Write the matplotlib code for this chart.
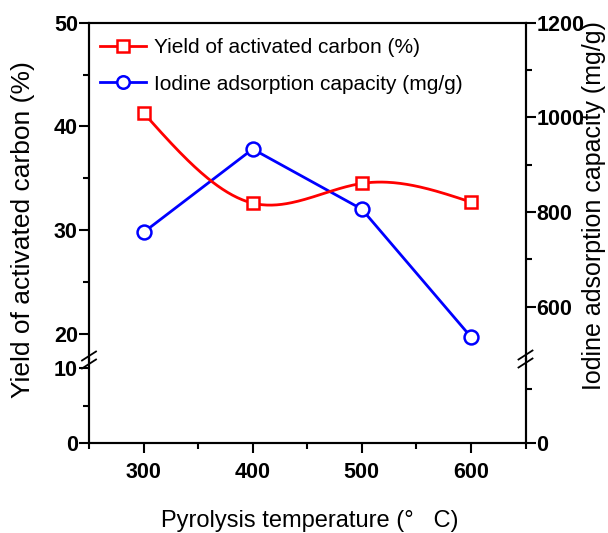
import numpy as np
import matplotlib
matplotlib.use("Agg")
import matplotlib.pyplot as plt
from matplotlib.lines import Line2D
from matplotlib.ticker import MultipleLocator, FixedLocator

plt.rcParams['font.family'] = ['Liberation Sans', 'DejaVu Sans']

# data
temperature = [300, 400, 500, 600]
yield_pct = [41.3, 32.6, 34.5, 32.7]
iodine = [757, 933, 806, 536]


def natural_spline(x, y, n=200):
    # natural cubic spline through the points (red curve is smoothed)
    x = np.asarray(x, float)
    y = np.asarray(y, float)
    k = len(x)
    h = np.diff(x)
    A = np.zeros((k, k))
    b = np.zeros(k)
    A[0, 0] = A[-1, -1] = 1
    for i in range(1, k - 1):
        A[i, i - 1] = h[i - 1]
        A[i, i] = 2 * (h[i - 1] + h[i])
        A[i, i + 1] = h[i]
        b[i] = 6 * ((y[i + 1] - y[i]) / h[i] - (y[i] - y[i - 1]) / h[i - 1])
    M = np.linalg.solve(A, b)
    xs = np.linspace(x[0], x[-1], n)
    ys = np.empty_like(xs)
    for j, xv in enumerate(xs):
        i = min(np.searchsorted(x, xv, side='right') - 1, k - 2)
        t1 = x[i + 1] - xv
        t0 = xv - x[i]
        ys[j] = (M[i] * t1 ** 3 / (6 * h[i]) + M[i + 1] * t0 ** 3 / (6 * h[i])
                 + (y[i] / h[i] - M[i] * h[i] / 6) * t1
                 + (y[i + 1] / h[i] - M[i + 1] * h[i] / 6) * t0)
    return xs, ys


W, H = 608, 533
fig = plt.figure(figsize=(W / 100, H / 100), dpi=100)

L, R = 89 / W, 525.5 / W
y_top, y_brk, y_bot = 1 - 22.7 / H, 1 - 359 / H, 1 - 443 / H

ax_top = fig.add_axes([L, y_brk, R - L, y_top - y_brk])
ax_bot = fig.add_axes([L, y_bot, R - L, y_brk - y_bot])
axr_top = ax_top.twinx()
axr_bot = ax_bot.twinx()

red = '#ff0000'
blue = '#0000ff'

xs, ys = natural_spline(temperature, yield_pct)
ax_top.plot(xs, ys, color=red, lw=2, zorder=2)
ax_top.plot(temperature, yield_pct, ls='none', marker='s', ms=8.5, mfc='white',
            mec=red, mew=1.8, zorder=3)
axr_top.plot(temperature, iodine, color=blue, lw=2, marker='o', ms=10,
             mfc='white', mec=blue, mew=1.8, zorder=3)
ax_top.set_zorder(axr_top.get_zorder() + 1)
ax_top.patch.set_visible(False)

for a in (ax_top, ax_bot, axr_top, axr_bot):
    a.set_xlim(250, 650)
    for s in a.spines.values():
        s.set_linewidth(1.5)
    a.tick_params(which='both', width=1.5, direction='out', labelsize=15.5)
    a.tick_params(which='major', length=7)
    a.tick_params(which='minor', length=4)

ax_top.set_ylim(17.57, 50)
axr_top.set_ylim(489.4, 1200)
ax_bot.set_ylim(0, 11.2)
axr_bot.set_ylim(0, 155.6)

for a in (ax_top, axr_top):
    a.spines['bottom'].set_visible(False)
    a.tick_params(axis='x', which='both', bottom=False, labelbottom=False)
for a in (ax_bot, axr_bot):
    a.spines['top'].set_visible(False)

ax_top.yaxis.set_major_locator(FixedLocator([20, 30, 40, 50]))
ax_top.yaxis.set_minor_locator(FixedLocator([25, 35, 45]))
axr_top.yaxis.set_major_locator(FixedLocator([600, 800, 1000, 1200]))
axr_top.yaxis.set_minor_locator(FixedLocator([700, 900, 1100]))
ax_bot.yaxis.set_major_locator(FixedLocator([0, 10]))
ax_bot.yaxis.set_minor_locator(FixedLocator([5]))
axr_bot.yaxis.set_major_locator(FixedLocator([0]))
axr_bot.yaxis.set_minor_locator(FixedLocator([100]))
ax_bot.xaxis.set_major_locator(FixedLocator(temperature))
ax_bot.xaxis.set_minor_locator(MultipleLocator(100, offset=50))

for a in (ax_top, ax_bot, axr_top, axr_bot):
    for lab in a.get_yticklabels() + a.get_xticklabels():
        lab.set_fontweight('bold')
ax_bot.tick_params(axis='x', pad=7)
for a in (ax_top, ax_bot, axr_top, axr_bot):
    a.tick_params(axis='y', pad=1)

# break marks on both vertical axes
for xp, yc0 in ((89, 360), (525.5, 359)):
    for dy in (-4, 4):
        yc = yc0 + dy
        fig.add_artist(Line2D([(xp - 7) / W, (xp + 7) / W],
                              [1 - (yc + 4.5) / H, 1 - (yc - 4.5) / H],
                              color='black', lw=1.3, transform=fig.transFigure))

fig.text(23 / W, 1 - 230 / H, 'Yield of activated carbon (%)', rotation=90,
         ha='center', va='center', fontsize=19)
fig.text(594 / W, 1 - 206 / H, 'Iodine adsorption capacity (mg/g)', rotation=90,
         ha='center', va='center', fontsize=18)
fig.text(310 / W, 1 - 521 / H, 'Pyrolysis temperature (°   C)',
         ha='center', va='center', fontsize=17)

handles = [
    Line2D([], [], color=red, lw=2, marker='s', ms=8, mfc='white', mec=red, mew=1.8),
    Line2D([], [], color=blue, lw=2, marker='o', ms=9, mfc='white', mec=blue, mew=1.8),
]
fig.legend(handles, ['Yield of activated carbon (%)', 'Iodine adsorption capacity (mg/g)'],
           loc='upper left', bbox_to_anchor=(100 / W, 1 - 38 / H), frameon=False,
           fontsize=15, handlelength=2.2, handletextpad=0.4, labelspacing=0.85,
           borderpad=0, borderaxespad=0)

fig.savefig('out.png', dpi=100)
